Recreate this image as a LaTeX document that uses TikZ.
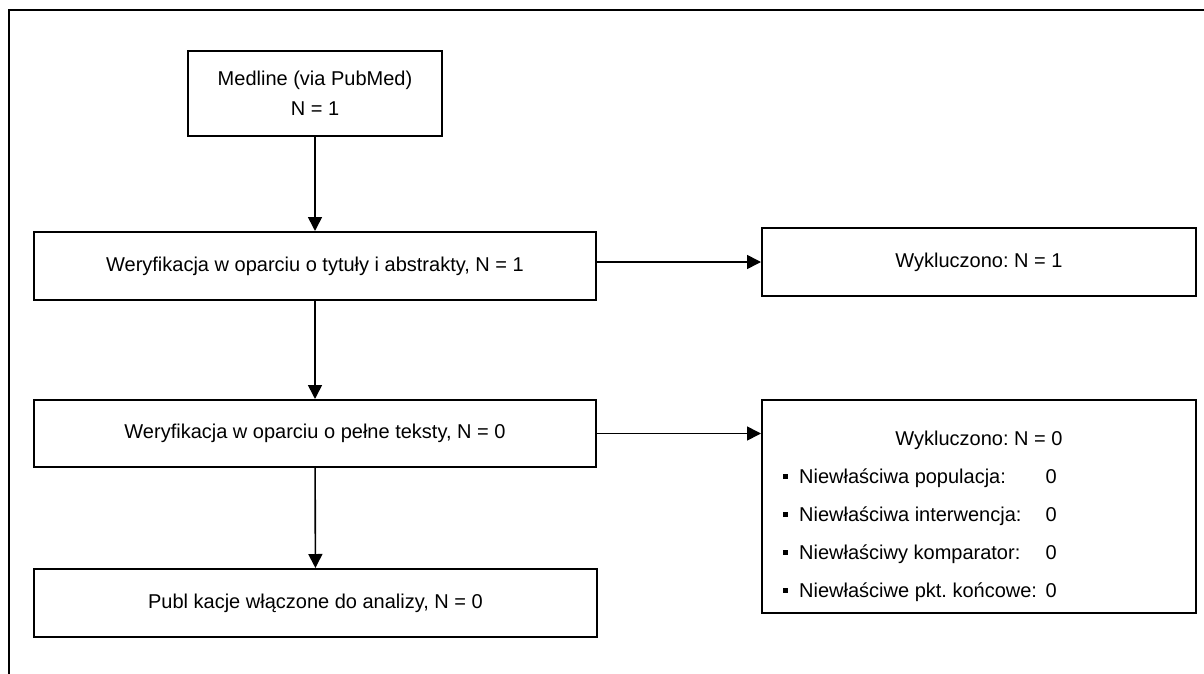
\documentclass[tikz,border=0pt]{standalone}
\usepackage{fontspec}
\setmainfont{Liberation Sans}
\usetikzlibrary{arrows.meta}
\frenchspacing
\begin{document}
\begin{tikzpicture}[x=1pt,y=-1pt,
  box/.style={draw,line width=2pt,inner sep=0pt,font=\fontsize{20}{24}\selectfont\frenchspacing,align=center},
  arr/.style={line width=1.6pt,-{Triangle[length=14pt,width=14pt]}},
  txt/.style={inner sep=0pt,font=\fontsize{20}{24}\selectfont\frenchspacing},
  bul/.style={fill=black,inner sep=0pt,minimum size=5pt}]
\useasboundingbox (0,0) rectangle (1204,674);
\draw[line width=1.5pt] (9,674) -- (9,10) -- (1204,10);
\node[box,minimum width=254pt,minimum height=85pt] (med) at (315,93.5) {Medline (via PubMed)\\[6pt]N = 1};
\node[box,minimum width=562pt,minimum height=68pt] (ver1) at (315,266) {Weryfikacja w oparciu o tytuły i abstrakty, N = 1};
\node[box,minimum width=562pt,minimum height=67pt] (ver2) at (315,433.5) {Weryfikacja w oparciu o pełne teksty, N = 0};
\node[box,minimum width=563pt,minimum height=68pt] (incl) at (315.5,603) {Publ kacje włączone do analizy, N = 0};
\node[box,minimum width=434pt,minimum height=68pt] (exc1) at (979,262) {Wykluczono: N = 1};
\node[box,minimum width=434pt,minimum height=213pt] (exc2) at (979,506.5) {};
\draw[arr] (med) -- (ver1);
\draw[arr] (ver1) -- (ver2);
\draw[arr] (ver2) -- (incl);
\draw[arr] (ver1.east |- exc1.west) -- (exc1.west);
\draw[arr] (ver2.east) -- (ver2.east -| exc2.west);
\node[txt,anchor=base] (t0) at (979,445) {Wykluczono: N = 0};
\node[bul] (b1) at (785,476) {};
\node[bul] (b2) at (785,514) {};
\node[bul] (b3) at (785,552) {};
\node[bul] (b4) at (785,590) {};
\node[txt,anchor=base west] (t1) at (799,483) {Niewłaściwa populacja:};
\node[txt,anchor=base west] (t2) at (799,521) {Niewłaściwa interwencja:};
\node[txt,anchor=base west] (t3) at (799,559) {Niewłaściwy komparator:};
\node[txt,anchor=base west] (t4) at (799,597) {Niewłaściwe pkt. końcowe:};
\node[txt,anchor=base west] (n1) at (1045.5,483) {0};
\node[txt,anchor=base west] (n2) at (1045.5,521) {0};
\node[txt,anchor=base west] (n3) at (1045.5,559) {0};
\node[txt,anchor=base west] (n4) at (1045.5,597) {0};
\end{tikzpicture}
\end{document}
